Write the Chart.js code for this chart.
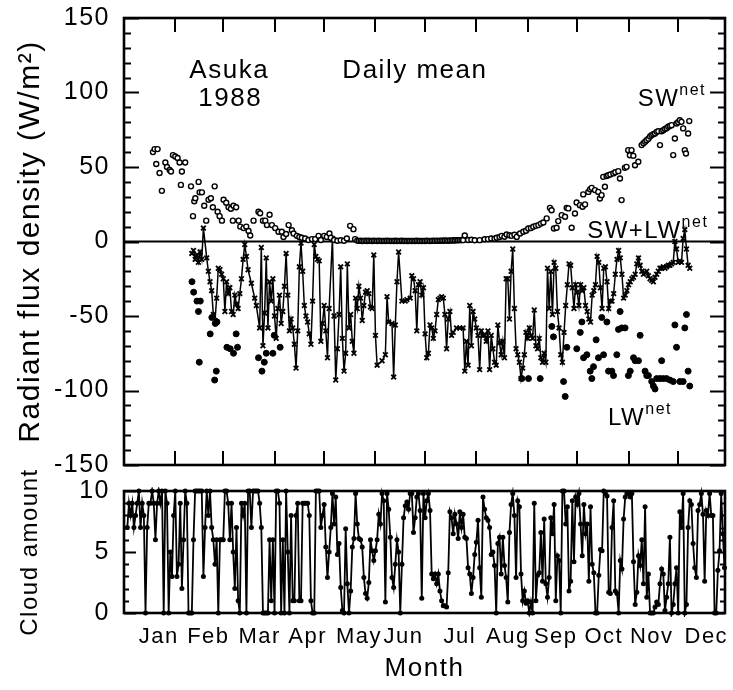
<!DOCTYPE html>
<html>
<head>
<meta charset="utf-8">
<title>Asuka 1988 - daily mean radiation</title>
<script src="https://cdn.jsdelivr.net/npm/chart.js@4.4.1/dist/chart.umd.min.js"></script>
<style>
  html, body { margin: 0; padding: 0; background: #fff; }
  #wrap { position: relative; width: 733px; height: 690px; }
  canvas { position: absolute; left: 0; }
  #fluxChart { top: 0; }
  #cloudChart { top: 430px; }
</style>
</head>
<body>
<div id="wrap">
  <canvas id="fluxChart" width="733" height="478"></canvas>
  <canvas id="cloudChart" width="733" height="260"></canvas>
</div>
<script>
// ===== data (day of year 1988, W/m2 and tenths of cloud) =====
const monthNames = ['Jan', 'Feb', 'Mar', 'Apr', 'May', 'Jun', 'Jul', 'Aug', 'Sep', 'Oct', 'Nov', 'Dec'];
const monthStarts = [0, 31, 60, 91, 121, 152, 182, 213, 244, 274, 305, 335];
const labelDays = [21, 51, 82, 111, 142, 169, 203, 232, 261, 290, 319, 352];

// SW net (open circles)
const swDays = [17.5, 18.5, 19.5, 20.3, 21.5, 22.9, 25, 26, 27.6, 28.4, 29.6, 31, 32.4, 33.6, 34.4, 35, 37, 40.5, 41.7, 42.5,
  43.1, 45.1, 45.7, 47.1, 48.5, 49.7, 51.1, 52.5, 53.7, 54.8, 56.6, 57.8, 59.2, 60.2, 61.8, 63.2, 64.6, 65.8, 66.2, 67.8,
  69.3, 70.3, 72.3, 73.9, 75.3, 76.3, 78.3, 81.3, 82.3, 84, 85.4, 86.4, 88, 89.4, 91.4, 93.4, 95.4, 96.4, 98, 99.5,
  101.5, 102.5, 104.5, 106, 107.5, 109.5, 111.5, 113.6, 115.6, 117.6, 119, 121, 122.6, 124.2, 125, 127, 129, 131, 133, 134.7,
  136.7, 138.7, 139.7, 141, 142, 143, 144, 145, 146, 147, 148, 149, 150, 151, 152, 153, 154, 155, 156, 157,
  158, 159, 160, 161, 162, 163, 164, 165, 166, 167, 168, 169, 170, 171, 172, 173, 174, 175, 176, 177,
  178, 179, 180, 181, 182, 183, 184, 185, 186, 187, 188, 189, 190, 191, 192, 193, 194, 195, 196, 197,
  198, 199, 200, 201, 202, 203, 204, 205, 206, 208, 210, 212, 215, 218, 220, 222, 224, 225.3, 227, 228.3,
  230, 231.3, 233, 234.3, 236, 237.4, 239.4, 241.4, 243, 244.4, 246, 247.4, 249, 250.5, 252, 253.5, 255.5, 257.5, 258.5, 259.9,
  261.5, 262.5, 264.6, 266.6, 267.6, 268.6, 270.6, 272.6, 273.6, 275.6, 277.2, 277.6, 278.7, 280.7, 281.7, 282.7, 284.7, 286.7, 287.7, 288.7,
  289.7, 290.7, 291.7, 292.7, 294, 295.8, 297, 298.8, 299.8, 300.8, 302.8, 303.8, 304.8, 305.8, 306.8, 307.9, 308.9, 310.9, 312.9, 314,
  315, 315.9, 317, 318, 318.9, 320, 321, 322, 323, 324, 325, 326, 327, 328, 329, 330, 331, 332, 333, 334,
  335, 336, 337, 338, 339, 339.7, 341, 341.7];
const swVals = [60, 62, 52, 62, 46, 34, 53, 50, 48, 47, 58, 57, 56, 53, 38, 47, 53, 37, 17, 27,
  29, 40, 33, 33, 24, 14, 28, 29, 23, 37, 20, 17, 14, 28, 26, 23, 22, 14, 24, 23,
  14, 10, 9, 10, 7, 4, 14, 20, 19, 14, 14, 11, 18, 11, 9, 6.5, 6.5, 3, 5, 11,
  7.6, 5.4, 3.8, 3, 2.5, 2, 1, 1.6, 1.6, 3.8, 1, 3.8, 3.1, 5.4, 2.5, 1, 0.5, 0.8, 0.5, 2,
  10.5, 8.3, 1.6, 0.6, 0.4, 0.5, 0.3, 0.4, 0.6, 0.3, 0.5, 0.4, 0.3, 0.5, 0.4, 0.3, 0.5, 0.4, 0.3, 0.4,
  0.3, 0.5, 0.4, 0.3, 0.4, 0.3, 0.5, 0.3, 0.4, 0.3, 0.5, 0.3, 0.4, 0.3, 0.3, 0.4, 0.3, 0.4, 0.3, 0.5,
  0.3, 0.4, 0.3, 0.4, 0.3, 0.5, 0.4, 0.3, 0.4, 0.5, 0.4, 0.6, 0.4, 0.5, 0.6, 0.5, 0.7, 0.6, 0.5, 0.7,
  0.6, 0.8, 0.7, 0.9, 0.8, 0.9, 1, 0.9, 4, 1, 1.2, 0.8, 0.9, 1.5, 1.6, 2, 1.8, 2.5, 3, 3.8,
  3.2, 4.7, 4.2, 3.8, 4.5, 3.1, 5.4, 6.5, 7.2, 8.7, 9, 9.9, 10.5, 11, 12, 12.8, 15.5, 22.6, 21, 8.7,
  9.2, 13.7, 17.7, 16.6, 22.6, 22.2, 9.2, 18.8, 26.2, 24.4, 23.3, 31.6, 24.9, 33.3, 35, 36, 34.5, 33.3, 28.9, 31.1,
  43.4, 36.7, 44, 44.5, 45, 45.7, 46.5, 47.2, 42.3, 27.8, 49.5, 50.1, 61.3, 57.9, 61.3, 57.5, 51.2, 53.5, 64.7, 66,
  67, 68, 69, 70.5, 71.4, 72, 72.5, 73.6, 74, 64.7, 74, 74.7, 75.5, 76, 77, 77.5, 78.1, 58, 69.1, 79.2,
  80, 81.4, 80.3, 75.9, 61.3, 59.1, 72.5, 80.8];

// LW net (filled dots)
const lwDays = [41.1, 42.1, 44.1, 45, 45.5, 46.1, 52.1, 53.1, 54.8, 55.2, 55.8, 56.2, 62.2, 64.2, 66.2, 67.8, 68.6, 81.3, 83.4, 84.8,
  86, 90, 90.8, 94.4, 240.5, 244.5, 251.6, 258.6, 259.6, 265.7, 266.7, 267.7, 273.7, 275.8, 276.8, 277.8, 279.8, 281.8, 282.8, 283.8,
  285.4, 286.8, 288.8, 289.9, 291.9, 292.9, 294.9, 295.9, 297.9, 298.9, 299.9, 300.9, 302.9, 304.9, 306, 308, 309, 311, 312, 315,
  316, 317, 319, 320, 321, 322, 324, 325, 326, 328, 330, 332, 333, 334, 336, 338, 339, 340, 341, 342];
const lwVals = [-27, -34, -40, -47, -81, -40, -62, -51, -93, -55, -87, -54, -71, -72, -75, -62, -71, -78, -87, -81,
  -75, -75, -63, -71, -92, -92, -92, -57, -64, -94, -104, -71, -72, -61, -54, -78, -76, -87, -92, -84,
  -66, -78, -51, -76, -54, -87, -87, -90, -76, -59, -47, -58, -58, -90, -87, -78, -80, -80, -63, -87,
  -90, -90, -94, -97, -99, -92, -92, -80, -92, -92, -93, -94, -56, -71, -94, -94, -58, -49, -87, -97];

// SW+LW net (line with crosses)
const netDays = [41, 42, 43, 44, 45, 46, 47, 48, 50, 51, 52, 53, 54, 55, 56, 57, 58, 59, 60, 61,
  62, 63, 64, 65, 66, 67, 68, 69, 70, 71, 72, 73, 74, 75, 77, 79, 80, 82, 83, 84,
  85, 86, 87, 88, 89, 90, 91, 92, 93, 94, 95, 96, 97, 98, 99, 100, 101, 102, 103, 104,
  105, 106, 107, 108, 109, 110, 111, 112, 113, 114, 115, 116, 117, 118, 119, 120, 121, 122, 123, 124,
  126, 127, 128, 129, 130, 131, 132, 133, 134, 135, 136, 137, 138, 139, 140, 141, 142, 143, 144, 145,
  146, 147, 148, 149, 150, 151, 152, 153, 156, 158, 159, 160, 162, 163, 164, 165, 166, 168, 170, 171,
  173, 174, 175, 176, 177, 178, 179, 180, 181, 182, 183, 184, 185, 186, 187, 188, 189, 190, 191, 192,
  193, 194, 195, 196, 197, 198, 199, 201, 203, 205, 206, 207, 208, 209, 210, 211, 212, 213, 214, 215,
  216, 217, 218, 219, 220, 221, 222, 223, 224, 225, 226, 227, 228, 229, 230, 231, 232, 233, 234, 235,
  236, 237, 238, 239, 240, 241, 242, 243, 244, 245, 246, 247, 248, 249, 250, 251, 252, 253, 254, 255,
  256, 257, 258, 259, 260, 261, 262, 263, 264, 265, 266, 267, 268, 269, 270, 271, 272, 273, 274, 275,
  276, 277, 278, 279, 280, 281, 282, 283, 284, 285, 286, 287, 288, 289, 290, 291, 292, 293, 294, 295,
  296, 297, 298, 299, 300, 301, 302, 303, 304, 305, 306, 307, 308, 309, 310, 311, 312, 313, 314, 315,
  316, 317, 318, 319, 320, 321, 322, 323, 324, 325, 326, 327, 328, 329, 330, 331, 332, 333, 334, 335,
  336, 337, 338, 339, 340, 341, 342];
const netVals = [-8, -6, -12, -9, -14, -7, -12, 9, -11, -20, -27, -33, -49, -53, -38, -18, -19, -22, -25, -47,
  -27, -35, -31, -47, -49, -36, -42, -45, -35, -25, -12, -2, -10, -19, -28, -38, -43, -58, -4, -70,
  -48, -11, -58, -27, -40, -25, -50, -65, -45, -36, -55, -47, -30, -8, -36, -60, -52, -58, -69, -85,
  -60, -17, -1, -20, -43, -50, -54, -62, -69, -40, -2, -10, -12, -13, -67, -55, -43, -60, -78, -45,
  2, -50, -93, -72, -49, -17, -65, -87, -75, -15, -58, -49, -67, -75, -38, -45, -30, -38, -53, -43,
  -34, -33, -35, -44, -45, -9, -63, -83, -80, -76, -37, -54, -55, -91, -56, -27, -7, -40, -40, -39,
  -38, -23, -25, -33, -60, -29, -27, -36, -31, -62, -78, -75, -56, -58, -65, -60, -49, -39, -38, -37,
  -38, -49, -72, -52, -47, -63, -61, -58, -58, -58, -87, -67, -83, -43, -70, -47, -52, -58, -63, -86,
  -60, -63, -63, -67, -60, -86, -63, -72, -81, -83, -56, -68, -76, -67, -78, -25, -25, -52, -20, -5,
  -45, -72, -76, -81, -92, -85, -76, -61, -65, -58, -63, -65, -46, -70, -72, -65, -78, -81, -75, -81,
  -18, -45, -20, -49, -14, -18, -47, -58, -76, -81, -61, -43, -29, -15, -16, -31, -45, -29, -34, -43,
  -29, -33, -31, -43, -47, -52, -54, -36, -33, -29, -10, -14, -31, -45, -18, -17, -27, -45, -40, -40,
  -35, -22, -12, -6, -11, -22, -38, -36, -33, -29, -27, -25, -24, -22, -15, -11, -16, -20, -22, -21,
  -20, -23, -25, -26, -27, -24, -22, -20, -18, -18, -17, -18, -17, -16, -16, -15, -14, 0, -5, -14,
  -13, -14, 2, 8, -5, -16, -18];

// cloud amount (tenths), one value a day starting at day 2
const cloudStart = 2;
const cloudVals = [7, 9, 8, 9, 7, 8, 9, 10, 7, 9, 8, 0, 7, 9, 9, 10, 9, 6, 9, 10,
  9, 10, 0, 10, 9, 0, 5, 3, 8, 10, 3, 4, 9, 2, 6, 10, 9, 0, 0, 0,
  6, 10, 10, 10, 10, 10, 3, 7, 10, 8, 10, 7, 6, 4, 6, 0, 6, 6, 6, 10,
  10, 9, 6, 9, 5, 2, 7, 1, 0, 9, 8, 9, 0, 10, 10, 7, 10, 10, 10, 10,
  9, 7, 0, 0, 0, 0, 6, 1, 6, 0, 10, 10, 9, 0, 6, 0, 10, 5, 0, 8,
  1, 1, 8, 9, 1, 1, 9, 9, 9, 9, 8, 1, 0, 0, 10, 10, 10, 7, 8,
  8.9, 5.4, 2.9, 5, 7, 9.8, 7.3, 9.5, 4.8, 5.7, 2.1, 0.2, 0, 6.9, 2.4, 0, 1.8, 5.4, 6.1, 9.8,
  7.3, 6.1, 6, 5.4, 2.9, 1.6, 1.2, 2.5, 6, 5.1, 4.3, 5.1, 6, 8.1, 7.3, 9.8, 9.2, 0.9, 9.8, 8.5,
  6.2, 2.9, 2.1, 4, 6, 5, 0, 4, 7.8, 8.8, 9.1, 8.5, 9.8, 9.8, 6.6, 7.8, 9.5, 9.8, 8.4, 1.2,
  9.8, 7.8, 9.2, 9.8, 8.4, 3.2, 2.8, 3.2, 2.4, 3.2, 1.8, 1, 0.6, 0.6, 0.5, 3.3, 8.3, 7.8, 6.5, 8.1,
  7.3, 6.1, 8.3, 7, 8.1, 6.2, 6.1, 3.7, 3.2, 1.6, 2.9, 4.8, 5.8, 7.6, 3.7, 1.3, 9.5, 8.5, 7.8, 7.6,
  7, 4.8, 5, 3.9, 0, 5.7, 6.2, 3.2, 6.2, 3.9, 2.9, 0.9, 6.6, 8.9, 9.8, 8, 2.9, 9.2, 8.7, 3.2, 1,
  1.8, 0.8, 1, 0, 0.9, 0, 9, 1, 3.1, 3.3, 6.6, 2.6, 7.7, 2.4, 1.3, 2.9, 7.8, 6.5, 8.9, 1,
  4.7, 4.3, 0, 10, 10, 7.3, 8.7, 1.8, 2.6, 9.2, 4.2, 9.5, 8.9, 9.8, 7.3, 4.7, 8.9, 6.5, 7.3, 2.6,
  8.7, 4, 3.3, 0, 0, 3.1, 5.2, 5.1, 10, 9.8, 9.6, 1.7, 1.6, 7, 9.2, 1.8, 1.6, 0, 4.3, 3.6,
  7.7, 9.5, 9.8, 9.8, 9.5, 9.8, 4.2, 0.7, 1.7, 4.7, 3.9, 6, 2.4, 8.7, 1.3, 3.2, 0, 0, 0, 0.5,
  0.9, 0.7, 2.4, 3.6, 3.2, 0.2, 1.3, 2.4, 6.2, 0, 0.7, 2.4, 3.7, 0, 8.3, 7, 9.8, 0, 0.7, 7,
  9.2, 8.9, 5.7, 3.7, 2.9, 8.4, 8.9, 9.8, 8.1, 2.6, 8.4, 8, 9.8, 8, 8, 0, 0, 3.5, 5.1, 9.8,
  6.5, 3.7];

const FONT = "'Liberation Sans', Arial, Helvetica, sans-serif";
const X_MAX = 363.3;

function toPoints(xs, ys) {
    return xs.map((d, i) => ({ x: d, y: ys[i] }));
}

// the printed lettering is a bit wider than Arial, so open it up a little
const spacing = {
    id: 'spacing',
    beforeUpdate(chart) { chart.ctx.letterSpacing = '1.5px'; },
    beforeDraw(chart) { chart.ctx.letterSpacing = '1.5px'; }
};

// y axis labels may hang over the plot edges, keep the plot box where it belongs
function fixWidth(w) {
    return s => { s.width = w; s.paddingTop = 0; s.paddingBottom = 0; };
}

// ===== frame, inward tick marks and zero line =====
const frameTicks = {
    id: 'frameTicks',
    beforeDatasetsDraw(chart, args, opts) {
        if (!opts.zeroLine) return;
        const { ctx, chartArea: a, scales: { y } } = chart;
        const py = y.getPixelForValue(0);
        ctx.save();
        ctx.strokeStyle = '#000';
        ctx.lineWidth = 2.2;
        ctx.beginPath();
        ctx.moveTo(a.left, py);
        ctx.lineTo(a.right, py);
        ctx.stroke();
        ctx.restore();
    },
    afterDatasetsDraw(chart, args, opts) {
        const { ctx, chartArea: a, scales: { x, y } } = chart;
        ctx.save();
        ctx.strokeStyle = '#000';
        ctx.lineWidth = 2;
        ctx.beginPath();
        for (let v = y.min; v <= y.max; v += opts.minor) {
            const py = Math.round(y.getPixelForValue(v)) + 0.5;
            const len = (Math.abs(v % opts.major) < 1e-9) ? opts.majorLen : opts.minorLen;
            ctx.moveTo(a.left, py); ctx.lineTo(a.left + len, py);
            ctx.moveTo(a.right, py); ctx.lineTo(a.right - len, py);
        }
        if (opts.monthLen) {
            monthStarts.slice(1).forEach(d => {
                const px = Math.round(x.getPixelForValue(d));
                ctx.moveTo(px, a.top); ctx.lineTo(px, a.top + opts.monthLen);
                ctx.moveTo(px, a.bottom); ctx.lineTo(px, a.bottom - opts.monthLen);
            });
        }
        ctx.stroke();
        ctx.lineWidth = 2.6;
        ctx.strokeRect(a.left, a.top, a.right - a.left, a.bottom - a.top);
        ctx.restore();
    }
};

// ===== text labels inside the flux panel =====
const notes = {
    id: 'notes',
    afterDraw(chart, args, opts) {
        if (!opts.items) return;
        const { ctx, scales: { x, y } } = chart;
        ctx.save();
        ctx.fillStyle = '#000';
        ctx.textBaseline = 'alphabetic';
        opts.items.forEach(it => {
            ctx.font = it.size + 'px ' + FONT;
            ctx.textAlign = it.align || 'left';
            const px = x.getPixelForValue(it.day);
            const py = y.getPixelForValue(it.val);
            ctx.fillText(it.text, px, py);
            if (it.sup) {
                const w = ctx.measureText(it.text).width;
                ctx.font = '16px ' + FONT;
                ctx.textAlign = 'left';
                ctx.fillText(it.sup, px + w, py - 11);
            }
        });
        ctx.restore();
    }
};

// =========== upper panel: radiant flux density ===========
new Chart(document.getElementById('fluxChart'), {
    type: 'scatter',
    data: {
        datasets: [
            {
                label: 'SW net',
                data: toPoints(swDays, swVals),
                pointStyle: 'circle',
                pointRadius: 2.5,
                pointBorderWidth: 1.4,
                borderColor: '#000',
                backgroundColor: '#fff',
                order: 0
            },
            {
                label: 'LW net',
                data: toPoints(lwDays, lwVals),
                pointStyle: 'circle',
                pointRadius: 3,
                borderColor: '#000',
                backgroundColor: '#000',
                order: 1
            },
            {
                label: 'SW+LW net',
                type: 'line',
                data: toPoints(netDays, netVals),
                borderColor: '#000',
                borderWidth: 1.5,
                pointStyle: 'crossRot',
                pointRadius: 3.3,
                pointBorderWidth: 1.8,
                pointBorderColor: '#000',
                fill: false,
                tension: 0,
                order: 2
            }
        ]
    },
    options: {
        responsive: false,
        animation: false,
        devicePixelRatio: 1,
        layout: { padding: { left: 0, right: 8, top: 18, bottom: 13 } },
        plugins: {
            legend: { display: false },
            tooltip: { enabled: false },
            frameTicks: { zeroLine: true, minor: 10, major: 50, minorLen: 7, majorLen: 15, monthLen: 14 },
            notes: {
                items: [
                    { text: 'Asuka', day: 63.6, val: 110, size: 26, align: 'center' },
                    { text: '1988', day: 64.2, val: 91, size: 26, align: 'center' },
                    { text: 'Daily mean', day: 132, val: 110, size: 26 },
                    { text: 'SW', sup: 'net', day: 310.5, val: 91, size: 24 },
                    { text: 'SW+LW', sup: 'net', day: 280, val: 2.5, size: 24 },
                    { text: 'LW', sup: 'net', day: 292.6, val: -123, size: 24 }
                ]
            }
        },
        scales: {
            x: { type: 'linear', min: 0, max: X_MAX, display: false },
            y: {
                min: -150,
                max: 150,
                afterFit: fixWidth(124),
                grid: { display: false, drawTicks: false },
                border: { display: false },
                ticks: { stepSize: 50, padding: 14, color: '#000', font: { size: 25, family: FONT } },
                title: {
                    display: true,
                    text: 'Radiant flux density (W/m²)',
                    color: '#000',
                    font: { size: 30, family: FONT },
                    padding: { top: 13, bottom: 0 }
                }
            }
        }
    },
    plugins: [spacing, frameTicks, notes]
});

// =========== lower panel: cloud amount ===========
new Chart(document.getElementById('cloudChart'), {
    type: 'line',
    data: {
        datasets: [{
            label: 'Cloud amount',
            data: cloudVals.map((v, i) => ({ x: cloudStart + i, y: v })),
            borderColor: '#000',
            borderWidth: 1.8,
            pointStyle: 'circle',
            pointRadius: 2.5,
            pointBorderWidth: 0,
            backgroundColor: '#000',
            tension: 0,
            clip: 4
        }]
    },
    options: {
        responsive: false,
        animation: false,
        devicePixelRatio: 1,
        layout: { padding: { left: 0, right: 8, top: 61, bottom: 0 } },
        plugins: {
            legend: { display: false },
            tooltip: { enabled: false },
            frameTicks: { zeroLine: false, minor: 1, major: 5, minorLen: 5, majorLen: 12, monthLen: 0 }
        },
        scales: {
            x: {
                type: 'linear',
                min: 0,
                max: X_MAX,
                afterBuildTicks: s => { s.ticks = labelDays.map(v => ({ value: v })); },
                afterFit: s => { s.height = 77; s.paddingLeft = 0; s.paddingRight = 0; },
                grid: { display: false, drawTicks: false },
                border: { display: false },
                ticks: {
                    autoSkip: false,
                    maxRotation: 0,
                    padding: 11,
                    color: '#000',
                    font: { size: 22, family: FONT },
                    callback: v => monthNames[labelDays.indexOf(v)]
                },
                title: {
                    display: true,
                    text: 'Month',
                    color: '#000',
                    font: { size: 26, family: FONT },
                    padding: { top: 4, bottom: 6 }
                }
            },
            y: {
                min: 0,
                max: 10,
                afterFit: fixWidth(124),
                grid: { display: false, drawTicks: false },
                border: { display: false },
                ticks: { stepSize: 5, padding: 14, color: '#000', font: { size: 25, family: FONT } },
                title: {
                    display: true,
                    text: 'Cloud amount',
                    color: '#000',
                    font: { size: 24, family: FONT },
                    padding: { top: 16, bottom: 0 }
                }
            }
        }
    },
    plugins: [spacing, frameTicks]
});
</script>
</body>
</html>
